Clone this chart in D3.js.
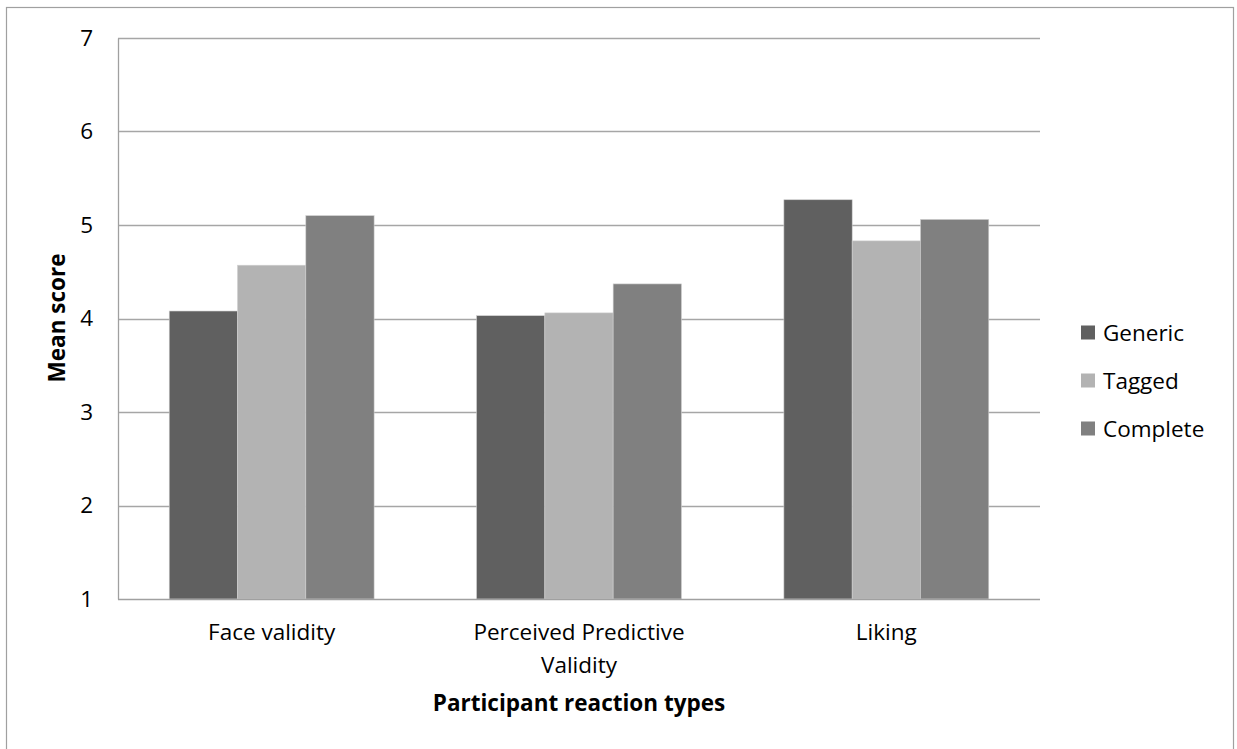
<!DOCTYPE html>
<html>
<head>
<meta charset="utf-8">
<script src="https://cdn.jsdelivr.net/npm/d3@7"></script>
<style>
  html, body { margin: 0; padding: 0; background: #fff; }
  svg { display: block; }
  text { font-family: "Open Sans", "Noto Sans", sans-serif; fill: #000; }
</style>
</head>
<body>
<svg id="chart" width="1237" height="749"></svg>
<script>
// Reaction categories, series and mean scores
const categories = ["Face validity", "Perceived Predictive Validity", "Liking"];
const categoryLines = [["Face validity"], ["Perceived Predictive", "Validity"], ["Liking"]];
const seriesNames = ["Generic", "Tagged", "Complete"];
const generic = [4.08, 4.03, 5.27];
const tagged = [4.57, 4.06, 4.83];
const complete = [5.10, 4.37, 5.06];
const yTicks = [1, 2, 3, 4, 5, 6, 7];
const colors = ["#606060", "#b3b3b3", "#808080"];

const seriesValues = [generic, tagged, complete];

const svg = d3.select("#chart");
const margin = { left: 118, right: 1040, top: 38, bottom: 599 };
const fs = 22.5;

// Outer chart frame
svg.append("rect")
  .attr("x", 6.5).attr("y", 7.5)
  .attr("width", 1227).attr("height", 780)
  .attr("fill", "none").attr("stroke", "#a0a0a0").attr("stroke-width", 1.2);

const x0 = d3.scaleBand().domain(categories).range([margin.left, margin.right]).paddingInner(0).paddingOuter(0);
// 150% gap width: bars fill 3 / 4.5 of each category slot
const x1 = d3.scaleBand().domain(seriesNames).range([0, x0.bandwidth()]).paddingOuter(0.75).paddingInner(0);
const y = d3.scaleLinear().domain([1, 7]).range([margin.bottom, margin.top]);

// Gridlines
svg.append("g")
  .selectAll("line")
  .data(yTicks.filter(t => t > 1))
  .join("line")
  .attr("x1", margin.left).attr("x2", margin.right)
  .attr("y1", d => Math.round(y(d)) + 0.5).attr("y2", d => Math.round(y(d)) + 0.5)
  .attr("stroke", "#a6a6a6").attr("stroke-width", 1.3);

// Bars
const groups = svg.append("g")
  .selectAll("g")
  .data(categories)
  .join("g")
  .attr("transform", d => `translate(${x0(d)},0)`);

groups.selectAll("rect")
  .data((d, i) => seriesNames.map((s, j) => ({ series: s, value: seriesValues[j][i], idx: j })))
  .join("rect")
  .attr("x", d => x1(d.series))
  .attr("width", x1.bandwidth())
  .attr("y", d => y(d.value))
  .attr("height", d => y(1) - y(d.value))
  .attr("fill", d => colors[d.idx])
  .attr("stroke", "#d0d0d0").attr("stroke-width", 0.6);

// Y axis
const yAxis = d3.axisLeft(y).tickValues(yTicks).tickSize(0).tickPadding(25).tickFormat(d3.format("d"));
const gy = svg.append("g").attr("transform", `translate(${margin.left},0)`).call(yAxis);
gy.select(".domain").attr("stroke", "#a0a0a0").attr("stroke-width", 1.3);
gy.selectAll("text").attr("font-size", fs).attr("font-family", "'Open Sans', sans-serif").attr("fill", "#000");

// Category axis baseline
svg.append("line")
  .attr("x1", margin.left).attr("x2", margin.right)
  .attr("y1", margin.bottom + 0.5).attr("y2", margin.bottom + 0.5)
  .attr("stroke", "#a0a0a0").attr("stroke-width", 1.3);

// Category labels
const labels = svg.append("g")
  .selectAll("text")
  .data(categories)
  .join("text")
  .attr("x", d => x0(d) + x0.bandwidth() / 2)
  .attr("y", 640)
  .attr("text-anchor", "middle")
  .attr("font-size", fs);
labels.each(function (d, i) {
  d3.select(this).selectAll("tspan")
    .data(categoryLines[i])
    .join("tspan")
    .attr("x", x0(d) + x0.bandwidth() / 2)
    .attr("dy", (t, k) => k === 0 ? 0 : 33)
    .text(t => t);
});

// Axis titles
svg.append("text")
  .attr("x", (margin.left + margin.right) / 2).attr("y", 711)
  .attr("text-anchor", "middle")
  .attr("font-size", fs).attr("font-weight", "bold")
  .text("Participant reaction types");

svg.append("text")
  .attr("transform", "translate(65,318) rotate(-90)")
  .attr("text-anchor", "middle")
  .attr("font-size", fs).attr("font-weight", "bold")
  .text("Mean score");

// Legend
const legend = svg.append("g")
  .selectAll("g")
  .data(seriesNames)
  .join("g")
  .attr("transform", (d, i) => `translate(1081,${332.5 + i * 48})`);
legend.append("rect")
  .attr("x", 0).attr("y", -7).attr("width", 14).attr("height", 14)
  .attr("fill", (d, i) => colors[i]);
legend.append("text")
  .attr("x", 22).attr("y", 8)
  .attr("font-size", fs)
  .text(d => d);
</script>
</body>
</html>
